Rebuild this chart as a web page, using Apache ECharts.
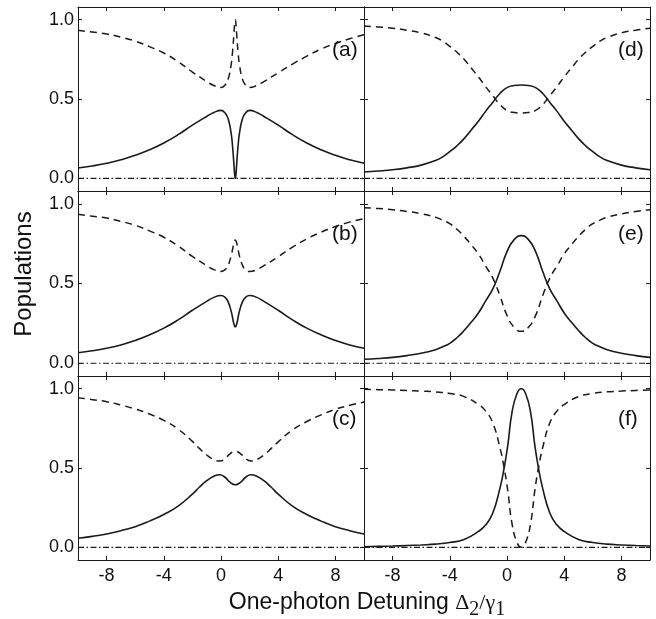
<!DOCTYPE html>
<html>
<head>
<meta charset="utf-8">
<script src="https://cdn.jsdelivr.net/npm/echarts@6/dist/echarts.min.js"></script>
<style>
html,body{margin:0;padding:0;background:#fff}
#main{width:656px;height:619px}
</style>
</head>
<body>
<div id="main"></div>
<script>
// tick positions
var xTicks = [-8, -4, 0, 4, 8];
var yTicks = [0, 0.5, 1];
var panelNames = ['(a)', '(b)', '(c)', '(d)', '(e)', '(f)'];

// (a)
var xA = [-10,-9,-8,-7,-6,-5,-4,-3,-2,-1,-0.5,0,0.3,0.5,0.7,0.8,0.9,0.95,1,1.05,1.1,1.2,1.3,1.5,1.7,2,2.5,3,4,5,6,7,8,9,10];
var solidA = [0.065,0.078,0.095,0.117,0.145,0.18,0.223,0.275,0.335,0.39,0.415,0.428,0.41,0.375,0.29,0.21,0.095,0.03,0,0.03,0.095,0.21,0.29,0.375,0.41,0.428,0.415,0.39,0.335,0.275,0.223,0.18,0.145,0.117,0.095];
var dashedA = [0.933,0.922,0.91,0.89,0.865,0.83,0.79,0.735,0.67,0.61,0.585,0.572,0.59,0.625,0.71,0.79,0.905,0.97,1,0.97,0.905,0.79,0.71,0.625,0.59,0.572,0.585,0.61,0.665,0.72,0.77,0.815,0.85,0.88,0.905];

// (b)
var xB = [-10,-9,-8,-7,-6,-5,-4,-3,-2,-1,-0.5,0,0.3,0.5,0.7,0.8,0.9,1,1.1,1.2,1.3,1.5,1.7,2,2.5,3,4,5,6,7,8,9,10];
var solidB = [0.066,0.078,0.094,0.115,0.143,0.178,0.22,0.272,0.332,0.388,0.413,0.425,0.412,0.385,0.33,0.29,0.248,0.227,0.248,0.29,0.33,0.385,0.412,0.425,0.413,0.388,0.332,0.272,0.22,0.178,0.143,0.115,0.094];
var dashedB = [0.934,0.922,0.91,0.89,0.865,0.83,0.79,0.735,0.67,0.612,0.587,0.575,0.588,0.615,0.67,0.71,0.752,0.773,0.752,0.71,0.67,0.615,0.588,0.575,0.587,0.612,0.668,0.728,0.78,0.822,0.857,0.885,0.906];

// (c)
var xC = [-10,-9,-8,-7,-6,-5,-4,-3,-2,-1.5,-1,-0.5,-0.1,0.3,0.6,1,1.4,1.7,2.1,2.5,3,3.5,4,5,6,7,8,9,10];
var solidC = [0.057,0.069,0.084,0.105,0.13,0.165,0.207,0.26,0.335,0.38,0.42,0.448,0.457,0.44,0.412,0.394,0.412,0.44,0.457,0.448,0.42,0.38,0.335,0.26,0.207,0.165,0.13,0.105,0.084];
var dashedC = [0.943,0.931,0.918,0.897,0.872,0.84,0.8,0.745,0.668,0.622,0.582,0.553,0.544,0.56,0.588,0.606,0.588,0.56,0.544,0.553,0.582,0.622,0.665,0.74,0.793,0.835,0.87,0.895,0.916];

// (d)
var xD = [-10,-9,-8,-7,-6,-5,-4.5,-4,-3.5,-3,-2.5,-2,-1.5,-1,-0.5,0,0.5,1,1.5,2,2.5,3,3.5,4,4.5,5,5.5,6,6.5,7,8,9,10];
var solidD = [0.04,0.046,0.054,0.066,0.083,0.112,0.135,0.168,0.205,0.25,0.305,0.36,0.422,0.478,0.535,0.572,0.585,0.588,0.585,0.572,0.535,0.478,0.422,0.36,0.305,0.25,0.205,0.168,0.135,0.112,0.083,0.066,0.054];
var dashedD = [0.96,0.954,0.946,0.934,0.917,0.888,0.865,0.832,0.795,0.75,0.695,0.64,0.578,0.522,0.465,0.428,0.415,0.412,0.415,0.428,0.465,0.522,0.578,0.64,0.695,0.75,0.795,0.832,0.865,0.888,0.917,0.934,0.946];

// (e)
var xE = [-10,-9,-8,-7,-6,-5,-4.5,-4,-3.5,-3,-2.5,-2,-1.5,-1,-0.5,0,0.5,1,1.5,2,2.5,3,3.5,4,4.5,5,5.5,6,6.5,7,8,9,10];
var solidE = [0.025,0.03,0.037,0.048,0.063,0.085,0.103,0.125,0.16,0.205,0.258,0.315,0.39,0.465,0.575,0.7,0.775,0.8,0.775,0.7,0.575,0.465,0.39,0.315,0.258,0.205,0.16,0.125,0.103,0.085,0.063,0.048,0.037];
var dashedE = [0.975,0.97,0.963,0.952,0.937,0.915,0.897,0.875,0.84,0.795,0.742,0.685,0.61,0.535,0.425,0.3,0.225,0.2,0.225,0.3,0.425,0.535,0.61,0.685,0.742,0.795,0.84,0.875,0.897,0.915,0.937,0.952,0.963];

// (f)
var xF = [-10,-9,-8,-7,-6,-5,-4,-3,-2,-1.5,-1,-0.5,-0.2,0.05,0.35,0.7,1,1.3,1.65,1.95,2.2,2.5,3,3.5,4,5,6,7,8,9,10];
var solidF = [0.004,0.006,0.008,0.011,0.015,0.02,0.03,0.05,0.1,0.14,0.215,0.37,0.5,0.64,0.85,0.97,1,0.97,0.85,0.64,0.5,0.37,0.215,0.14,0.1,0.05,0.03,0.02,0.015,0.011,0.008];
var dashedF = [0.996,0.994,0.992,0.989,0.985,0.98,0.97,0.95,0.9,0.86,0.785,0.63,0.5,0.36,0.15,0.03,0,0.03,0.15,0.36,0.5,0.63,0.785,0.86,0.9,0.95,0.97,0.98,0.985,0.989,0.992];

// third population, flat at zero
var dotX = [-10, 10];
var dotY = [0, 0];

var xs = [xA, xB, xC, xD, xE, xF];
var solids = [solidA, solidB, solidC, solidD, solidE, solidF];
var dasheds = [dashedA, dashedB, dashedC, dashedD, dashedE, dashedF];

// panel boxes: left column a,b,c then right column d,e,f
var colLeft = [78, 364];
var colW = 286;
var rowTop = [7, 191, 376];
var rowH = [184, 185, 184];

var myChart = echarts.init(document.getElementById('main'));
var ink = '#1a1a1a';

function pairs(x, y) {
    return x.map(function (v, i) { return [v, y[i]]; });
}

var grids = [], xAxes = [], yAxes = [], series = [], graphics = [];

for (var i = 0; i < 6; i++) {
    var col = i < 3 ? 0 : 1, row = i % 3;
    var box = {left: colLeft[col], top: rowTop[row], width: colW, height: rowH[row]};
    grids.push(box);

    ['bottom', 'top'].forEach(function (pos) {
        xAxes.push({
            type: 'value', gridIndex: i, position: pos, min: -10, max: 10,
            axisLine: {show: true, onZero: false, lineStyle: {color: ink, width: 1}},
            axisTick: {show: true, inside: true, length: 4, customValues: xTicks, lineStyle: {color: ink}},
            axisLabel: {
                show: pos === 'bottom' && row === 2, customValues: xTicks, margin: 7,
                color: '#111', fontSize: 18, fontFamily: 'Liberation Sans'
            },
            splitLine: {show: false}
        });
    });
    ['left', 'right'].forEach(function (pos) {
        yAxes.push({
            type: 'value', gridIndex: i, position: pos, min: -0.08, max: 1.08,
            axisLine: {show: true, onZero: false, lineStyle: {color: ink, width: 1}},
            axisTick: {show: true, inside: true, length: 4, customValues: yTicks, lineStyle: {color: ink}},
            axisLabel: {
                show: pos === 'left' && col === 0, customValues: yTicks, margin: 4,
                color: '#111', fontSize: 18, fontFamily: 'Liberation Sans',
                formatter: function (v) { return v.toFixed(1); }
            },
            splitLine: {show: false}
        });
    });

    series.push({
        type: 'line', xAxisIndex: 2 * i, yAxisIndex: 2 * i, data: pairs(xs[i], solids[i]),
        showSymbol: false, symbol: 'none', smooth: 0.5,
        lineStyle: {color: ink, width: 1.6}
    });
    series.push({
        type: 'line', xAxisIndex: 2 * i, yAxisIndex: 2 * i, data: pairs(xs[i], dasheds[i]),
        showSymbol: false, symbol: 'none', smooth: 0.5,
        lineStyle: {color: ink, width: 1.5, type: [7, 5]}
    });
    series.push({
        type: 'line', xAxisIndex: 2 * i, yAxisIndex: 2 * i, data: pairs(dotX, dotY),
        showSymbol: false, symbol: 'none',
        lineStyle: {color: ink, width: 1.2, type: [6, 2.5, 1.5, 2.5]}
    });

    graphics.push({
        type: 'text', left: box.left + box.width - 6 - 26, top: box.top + 33,
        style: {text: panelNames[i], fill: '#111', font: '21px "Liberation Sans"'}
    });
}

graphics.push({
    type: 'text', x: 24, y: 274, rotation: Math.PI / 2,
    style: {text: 'Populations', fill: '#111', font: '24px "Liberation Sans"', align: 'center', verticalAlign: 'middle'}
});
graphics.push({
    type: 'text', x: 367, y: 603,
    style: {
        text: '{a|One-photon Detuning }{b|Δ}{s|2}{b|/γ}{s|1}',
        align: 'center', verticalAlign: 'middle', fill: '#111',
        rich: {
            a: {fontSize: 23, fontFamily: 'Liberation Sans', lineHeight: 30, fill: '#111'},
            b: {fontSize: 22, fontFamily: 'Liberation Serif', lineHeight: 30, fill: '#111'},
            s: {fontSize: 20, fontFamily: 'Liberation Serif', lineHeight: 30, padding: [14, 0, 0, 0], fill: '#111'}
        }
    }
});

var option = {
    animation: false,
    backgroundColor: '#fff',
    grid: grids,
    xAxis: xAxes,
    yAxis: yAxes,
    series: series,
    graphic: graphics
};
myChart.setOption(option);
</script>
</body>
</html>
